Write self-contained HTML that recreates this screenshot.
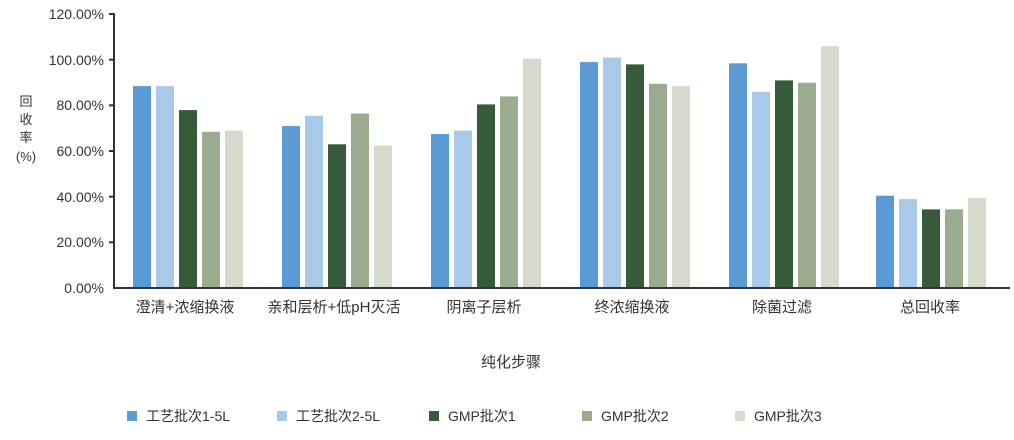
<!DOCTYPE html>
<html><head><meta charset="utf-8"><style>
body{margin:0;background:#fff;}
svg text{font-family:"Liberation Sans","Noto Sans CJK SC",sans-serif;fill:#333;}
</style></head><body>
<svg width="1014" height="435" xmlns="http://www.w3.org/2000/svg">
<g font-size="14" text-anchor="end">
<text x="104" y="19">120.00%</text>
<text x="104" y="65">100.00%</text>
<text x="104" y="110">80.00%</text>
<text x="104" y="156">60.00%</text>
<text x="104" y="202">40.00%</text>
<text x="104" y="247">20.00%</text>
<text x="104" y="293">0.00%</text>
</g>
<g width="18">
<rect x="133" y="86.1" width="18" height="200.9" fill="#5b9bd5"/>
<rect x="156" y="86.1" width="18" height="200.9" fill="#a9c9ea"/>
<rect x="179" y="110.1" width="18" height="176.9" fill="#375a3a"/>
<rect x="202" y="131.8" width="18" height="155.2" fill="#9aab8e"/>
<rect x="225" y="130.6" width="18" height="156.4" fill="#d5dacd"/>

<rect x="282" y="126.05" width="18" height="160.95" fill="#5b9bd5"/>
<rect x="305" y="115.8" width="18" height="171.2" fill="#a9c9ea"/>
<rect x="328" y="144.3" width="18" height="142.7" fill="#375a3a"/>
<rect x="351" y="113.5" width="18" height="173.5" fill="#9aab8e"/>
<rect x="374" y="145.5" width="18" height="141.5" fill="#d5dacd"/>

<rect x="431" y="134" width="18" height="153" fill="#5b9bd5"/>
<rect x="454" y="130.6" width="18" height="156.4" fill="#a9c9ea"/>
<rect x="477" y="104.4" width="18" height="182.6" fill="#375a3a"/>
<rect x="500" y="96.4" width="18" height="190.6" fill="#9aab8e"/>
<rect x="523" y="58.7" width="18" height="228.3" fill="#d5dacd"/>

<rect x="580" y="62.1" width="18" height="224.9" fill="#5b9bd5"/>
<rect x="603" y="57.6" width="18" height="229.4" fill="#a9c9ea"/>
<rect x="626" y="64.4" width="18" height="222.6" fill="#375a3a"/>
<rect x="649" y="83.8" width="18" height="203.2" fill="#9aab8e"/>
<rect x="672" y="86.1" width="18" height="200.9" fill="#d5dacd"/>

<rect x="729" y="63.3" width="18" height="223.7" fill="#5b9bd5"/>
<rect x="752" y="91.8" width="18" height="195.2" fill="#a9c9ea"/>
<rect x="775" y="80.4" width="18" height="206.6" fill="#375a3a"/>
<rect x="798" y="82.7" width="18" height="204.3" fill="#9aab8e"/>
<rect x="821" y="46.1" width="18" height="240.9" fill="#d5dacd"/>

<rect x="876" y="195.7" width="18" height="91.3" fill="#5b9bd5"/>
<rect x="899" y="199.1" width="18" height="87.9" fill="#a9c9ea"/>
<rect x="922" y="209.4" width="18" height="77.6" fill="#375a3a"/>
<rect x="945" y="209.4" width="18" height="77.6" fill="#9aab8e"/>
<rect x="968" y="198" width="18" height="89" fill="#d5dacd"/>
</g>
<g stroke="#333" stroke-width="2">
<line x1="114" y1="13" x2="114" y2="288"/>
<line x1="113" y1="288" x2="1010" y2="288"/>
<line x1="109" y1="14" x2="114" y2="14"/>
<line x1="109" y1="59.7" x2="114" y2="59.7"/>
<line x1="109" y1="105.3" x2="114" y2="105.3"/>
<line x1="109" y1="151" x2="114" y2="151"/>
<line x1="109" y1="196.7" x2="114" y2="196.7"/>
<line x1="109" y1="242.3" x2="114" y2="242.3"/>
</g>
<g font-size="15" text-anchor="middle">
<text x="185" y="312">澄清+浓缩换液</text>
<text x="334" y="312">亲和层析+低pH灭活</text>
<text x="484" y="312">阴离子层析</text>
<text x="632" y="312">终浓缩换液</text>
<text x="782" y="312">除菌过滤</text>
<text x="930" y="312">总回收率</text>
<text x="511" y="367">纯化步骤</text>
</g>
<g font-size="13" text-anchor="middle">
<text x="26" y="106">回</text>
<text x="26" y="124">收</text>
<text x="26" y="142">率</text>
<text x="26" y="161">(%)</text>
</g>
<g font-size="14">
<rect x="127" y="411" width="10" height="10" fill="#5b9bd5"/><text x="146" y="421">工艺批次1-5L</text>
<rect x="277" y="411" width="10" height="10" fill="#a9c9ea"/><text x="296" y="421">工艺批次2-5L</text>
<rect x="429" y="411" width="10" height="10" fill="#375a3a"/><text x="448" y="421">GMP批次1</text>
<rect x="582" y="411" width="10" height="10" fill="#9aab8e"/><text x="601" y="421">GMP批次2</text>
<rect x="735" y="411" width="10" height="10" fill="#d5dacd"/><text x="754" y="421">GMP批次3</text>
</g>
</svg>
</body></html>
